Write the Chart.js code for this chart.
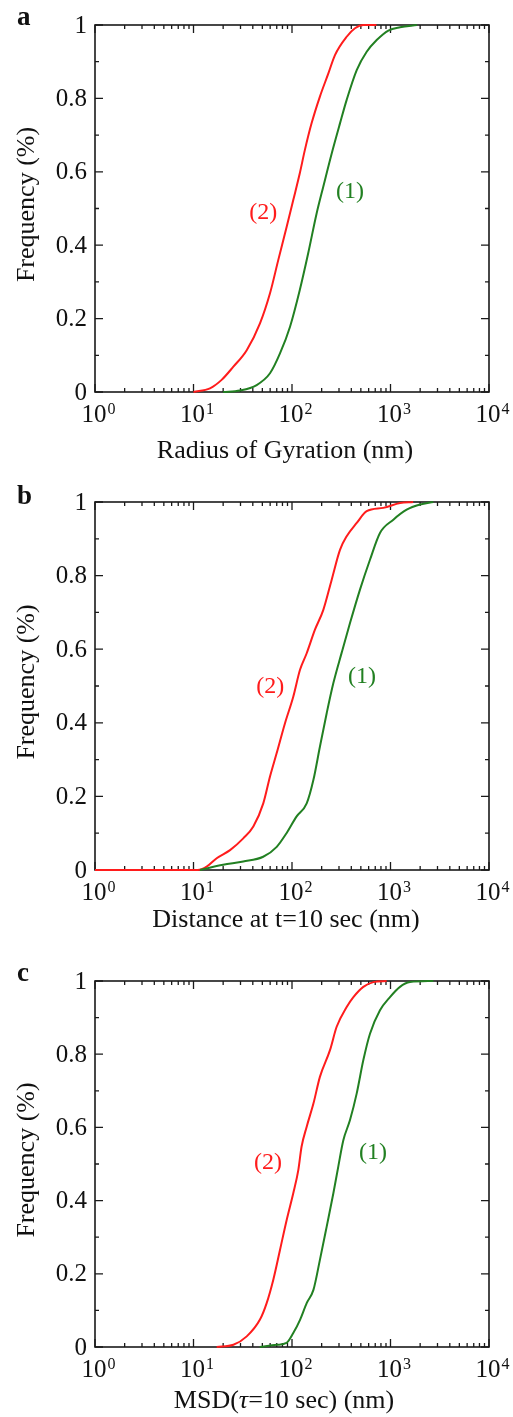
<!DOCTYPE html>
<html>
<head>
<meta charset="utf-8">
<script src="https://cdn.jsdelivr.net/npm/chart.js@4"></script>
<style>
  body { margin: 0; background: #fff; }
  canvas { display: block; }
</style>
</head>
<body>
<canvas id="chart-a" width="513" height="470"></canvas>
<canvas id="chart-b" width="513" height="470"></canvas>
<canvas id="chart-c" width="513" height="477"></canvas>
<script>
// axis ticks
const xDecades = [1, 10, 100, 1000, 10000];
const xMinorFactors = [2, 3, 4, 5, 6, 7, 8, 9];
const yTicks = [0, 0.2, 0.4, 0.6, 0.8, 1];
const yMinorTicks = [0.1, 0.3, 0.5, 0.7, 0.9];

// panel a: radius of gyration
const rgX2 = [10, 14.7, 19.3, 25.4, 34.7, 47.3, 59.8, 72.6, 88.3, 103, 120, 135, 158, 192, 234, 273, 359, 436, 530, 720];
const rgY2 = [0, 0.01, 0.033, 0.069, 0.114, 0.187, 0.269, 0.36, 0.45, 0.523, 0.596, 0.659, 0.732, 0.805, 0.868, 0.918, 0.968, 0.991, 1, 1];
const rgX1 = [20, 29.6, 43.8, 59.8, 75.5, 95.5, 120, 146, 178, 208, 253, 307, 359, 454, 573, 724, 951, 1250, 1850];
const rgY1 = [0, 0.004, 0.019, 0.051, 0.105, 0.178, 0.278, 0.378, 0.487, 0.56, 0.65, 0.732, 0.796, 0.877, 0.927, 0.959, 0.985, 0.994, 1];

// panel b: distance at t=10 sec
const distX2 = [1, 11, 13.6, 17.2, 23.5, 32, 40.5, 51.1, 59.8, 69.8, 84.9, 103, 120.6, 141, 171, 208, 253, 307, 359, 454, 573, 846, 1250, 1700];
const distY2 = [0, 0, 0.009, 0.032, 0.054, 0.086, 0.118, 0.181, 0.254, 0.317, 0.399, 0.471, 0.544, 0.589, 0.653, 0.707, 0.789, 0.87, 0.907, 0.943, 0.975, 0.984, 0.997, 1];
const distX1 = [11.6, 20, 32, 51, 70, 88, 111, 141, 165, 192, 225, 263, 319, 388, 490, 619, 782, 1069, 1459, 1995, 2720];
const distY1 = [0, 0.014, 0.023, 0.036, 0.063, 0.1, 0.145, 0.181, 0.245, 0.335, 0.426, 0.508, 0.59, 0.671, 0.762, 0.843, 0.916, 0.952, 0.979, 0.993, 1];

// panel c: MSD(tau=10 sec)
const msdX2 = [17.2, 25.4, 34.7, 47.3, 55.3, 64.6, 75.5, 88.3, 103, 116, 125, 141, 165, 192, 243, 284, 359, 420, 530, 670, 914];
const msdY2 = [0, 0.006, 0.029, 0.075, 0.12, 0.184, 0.265, 0.347, 0.42, 0.484, 0.547, 0.602, 0.665, 0.738, 0.811, 0.875, 0.929, 0.956, 0.984, 0.997, 1];
const msdX1 = [47, 70, 88, 103, 121, 141, 165, 192, 225, 263, 295, 332, 388, 454, 530, 619, 782, 988, 1248, 1577, 2720];
const msdY1 = [0, 0.006, 0.011, 0.038, 0.075, 0.12, 0.156, 0.238, 0.329, 0.42, 0.493, 0.565, 0.62, 0.693, 0.784, 0.856, 0.92, 0.956, 0.984, 0.997, 1];

const RED = 'rgb(255, 28, 28)';
const GREEN = 'rgb(34, 128, 34)';
const FONT = "'Liberation Serif', 'DejaVu Serif', serif";

function toPoints(xs, ys) {
    return xs.map((v, i) => ({ x: v, y: ys[i] }));
}

// frame, inward ticks and all the text
const framePlugin = {
    id: 'frame',
    beforeDatasetsDraw(chart) {
        const { ctx, chartArea: a, scales: { x, y } } = chart;
        ctx.save();
        ctx.strokeStyle = '#1a1a1a';
        ctx.lineWidth = 1.6;
        ctx.strokeRect(a.left, a.top, a.right - a.left, a.bottom - a.top);
        ctx.lineWidth = 1.3;
        ctx.beginPath();
        xDecades.forEach((d, i) => {
            const px = x.getPixelForValue(d);
            ctx.moveTo(px, a.bottom); ctx.lineTo(px, a.bottom - 8);
            ctx.moveTo(px, a.top); ctx.lineTo(px, a.top + 8);
            if (i === xDecades.length - 1) return;
            xMinorFactors.forEach(m => {
                const mx = x.getPixelForValue(d * m);
                ctx.moveTo(mx, a.bottom); ctx.lineTo(mx, a.bottom - 4);
                ctx.moveTo(mx, a.top); ctx.lineTo(mx, a.top + 4);
            });
        });
        yTicks.forEach(v => {
            const py = y.getPixelForValue(v);
            ctx.moveTo(a.left, py); ctx.lineTo(a.left + 8, py);
            ctx.moveTo(a.right, py); ctx.lineTo(a.right - 8, py);
        });
        yMinorTicks.forEach(v => {
            const py = y.getPixelForValue(v);
            ctx.moveTo(a.left, py); ctx.lineTo(a.left + 4, py);
            ctx.moveTo(a.right, py); ctx.lineTo(a.right - 4, py);
        });
        ctx.stroke();
        ctx.restore();
    },
    afterDraw(chart, args, opts) {
        const { ctx, chartArea: a, scales: { x, y } } = chart;
        ctx.save();
        ctx.fillStyle = '#111';

        // y tick labels
        ctx.font = '25px ' + FONT;
        ctx.textAlign = 'right';
        ctx.textBaseline = 'middle';
        yTicks.forEach(v => {
            ctx.fillText(String(v), a.left - 8, y.getPixelForValue(v) + 1);
        });

        // x tick labels 10^n
        ctx.textAlign = 'left';
        ctx.textBaseline = 'alphabetic';
        xDecades.forEach((d, i) => {
            const px = x.getPixelForValue(d);
            ctx.font = '25px ' + FONT;
            const wBase = ctx.measureText('10').width;
            ctx.font = '16px ' + FONT;
            const wExp = ctx.measureText(String(i)).width;
            const left = px - (wBase + wExp) / 2 + 3;
            const base = a.bottom + opts.tickBase;
            ctx.font = '25px ' + FONT;
            ctx.fillText('10', left, base);
            ctx.font = '16px ' + FONT;
            ctx.fillText(String(i), left + wBase + 1, base - 8);
        });

        // x title, pieces may be italic
        let total = 0;
        opts.xTitle.forEach(p => {
            ctx.font = (p.italic ? 'italic ' : '') + '26px ' + FONT;
            total += ctx.measureText(p.text).width;
        });
        let tx = opts.titleX - total / 2;
        opts.xTitle.forEach(p => {
            ctx.font = (p.italic ? 'italic ' : '') + '26px ' + FONT;
            ctx.fillText(p.text, tx, a.bottom + opts.titleBase);
            tx += ctx.measureText(p.text).width;
        });

        // y title
        ctx.save();
        ctx.font = '26px ' + FONT;
        ctx.textAlign = 'center';
        ctx.textBaseline = 'middle';
        ctx.translate(27, (a.top + a.bottom) / 2 - 4);
        ctx.rotate(-Math.PI / 2);
        ctx.fillText('Frequency (%)', 0, 0);
        ctx.restore();

        // panel letter
        ctx.font = 'bold 27px ' + FONT;
        ctx.textAlign = 'left';
        ctx.fillText(opts.letter, 17, opts.letterBase);

        // curve labels
        ctx.font = '24px ' + FONT;
        ctx.textAlign = 'center';
        ctx.textBaseline = 'middle';
        opts.curveLabels.forEach(l => {
            ctx.fillStyle = l.color;
            ctx.fillText(l.text, x.getPixelForValue(l.x), y.getPixelForValue(l.y));
        });
        ctx.restore();
    }
};

function makePanel(id, pad, xs1, ys1, xs2, ys2, opts) {
    const ctx = document.getElementById(id).getContext('2d');
    return new Chart(ctx, {
        type: 'line',
        data: {
            datasets: [
                {
                    label: '(1)',
                    data: toPoints(xs1, ys1),
                    borderColor: GREEN,
                    borderWidth: 2,
                    pointRadius: 0,
                    fill: false,
                    clip: false,
                    cubicInterpolationMode: 'monotone',
                },
                {
                    label: '(2)',
                    data: toPoints(xs2, ys2),
                    borderColor: RED,
                    borderWidth: 2,
                    pointRadius: 0,
                    fill: false,
                    clip: false,
                    cubicInterpolationMode: 'monotone',
                },
            ],
        },
        options: {
            responsive: false,
            animation: false,
            layout: { padding: pad },
            plugins: {
                legend: { display: false },
                tooltip: { enabled: false },
                frame: opts,
            },
            scales: {
                x: { type: 'logarithmic', min: 1, max: 10000, display: false },
                y: { type: 'linear', min: 0, max: 1, display: false },
            },
        },
        plugins: [framePlugin],
    });
}

makePanel('chart-a', { left: 95, right: 24, top: 25, bottom: 78 }, rgX1, rgY1, rgX2, rgY2, {
    letter: 'a', letterBase: 25, tickBase: 30, titleBase: 66, titleX: 285,
    xTitle: [{ text: 'Radius of Gyration (nm)' }],
    curveLabels: [
        { text: '(2)', x: 51, y: 0.488, color: RED },
        { text: '(1)', x: 388, y: 0.545, color: GREEN },
    ],
});

makePanel('chart-b', { left: 95, right: 24, top: 32, bottom: 70 }, distX1, distY1, distX2, distY2, {
    letter: 'b', letterBase: 34, tickBase: 30, titleBase: 57, titleX: 286,
    xTitle: [{ text: 'Distance at t=10 sec (nm)' }],
    curveLabels: [
        { text: '(2)', x: 60, y: 0.497, color: RED },
        { text: '(1)', x: 513, y: 0.524, color: GREEN },
    ],
});

makePanel('chart-c', { left: 95, right: 24, top: 41, bottom: 70 }, msdX1, msdY1, msdX2, msdY2, {
    letter: 'c', letterBase: 41, tickBase: 30, titleBase: 61, titleX: 284,
    xTitle: [{ text: 'MSD(' }, { text: 'τ', italic: true }, { text: '=10 sec) (nm)' }],
    curveLabels: [
        { text: '(2)', x: 57, y: 0.503, color: RED },
        { text: '(1)', x: 664, y: 0.53, color: GREEN },
    ],
});
</script>
</body>
</html>
